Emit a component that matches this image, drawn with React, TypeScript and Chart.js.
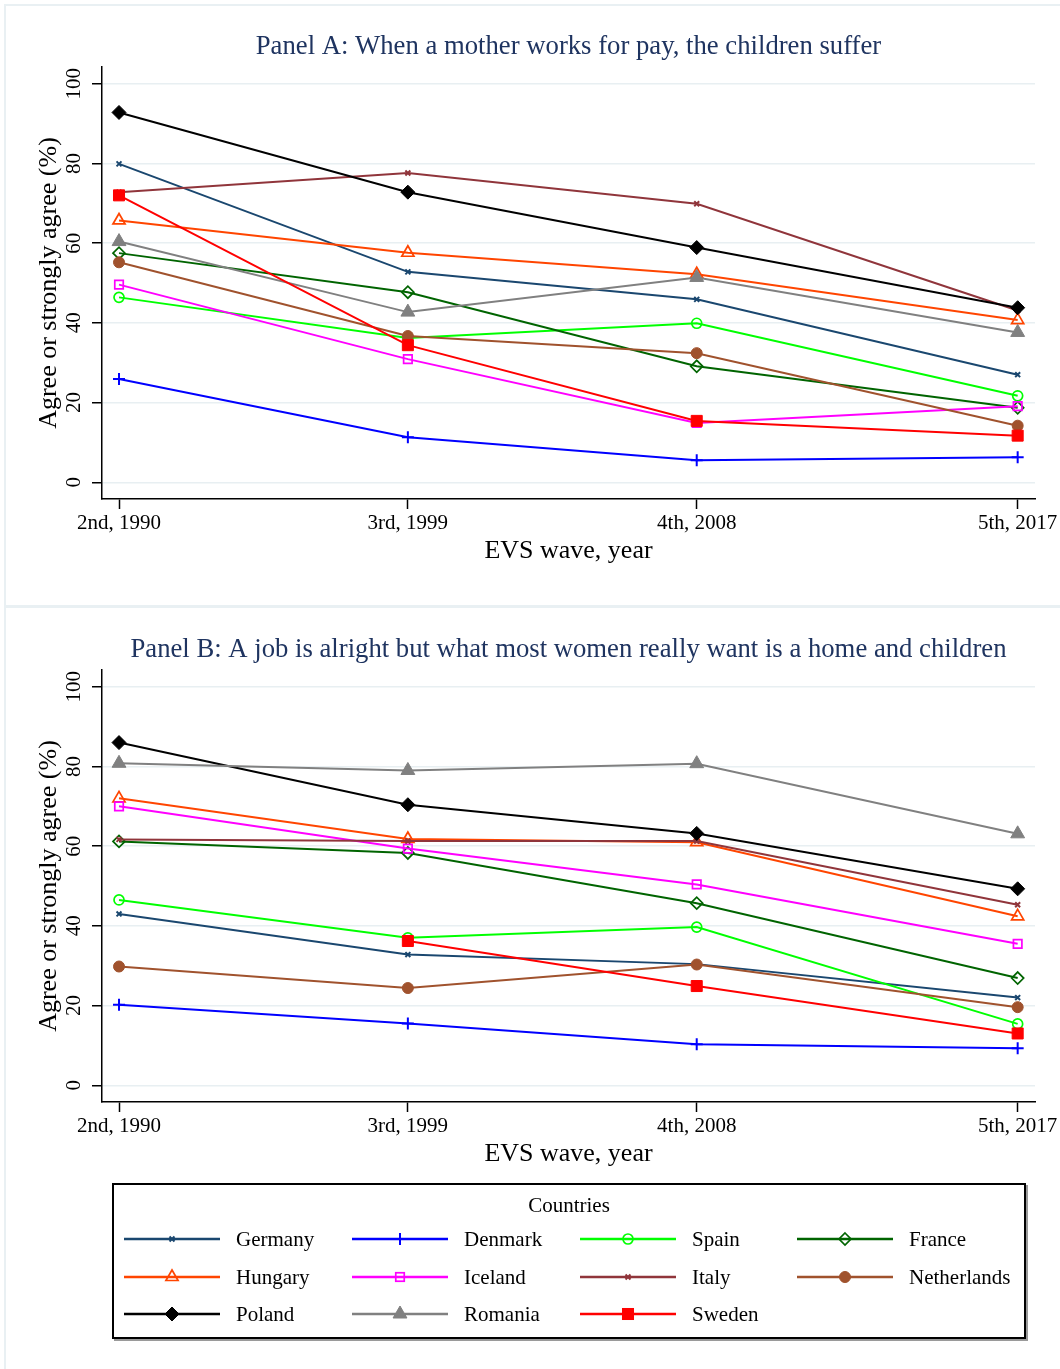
import React, { useEffect, useRef } from "react";
import { Chart, registerables } from "chart.js";

Chart.register(...registerables);

const SERIF = "'Liberation Serif', 'Times New Roman', serif";

// x positions (survey year used for plotting) and tick labels
const waveYears = [1990, 1999, 2008, 2018];
const waveLabels = ["2nd, 1990", "3rd, 1999", "4th, 2008", "5th, 2017"];
const yTicks = [0, 20, 40, 60, 80, 100];

const countries = [
  "Germany", "Denmark", "Spain", "France",
  "Hungary", "Iceland", "Italy", "Netherlands",
  "Poland", "Romania", "Sweden",
];
const colors = [
  "#1a476f", "#0000ff", "#00ff00", "#006400",
  "#ff4500", "#ff00ff", "#90353b", "#a0522d",
  "#000000", "#808080", "#ff0000",
];
const pointStyles = [
  "crossRot", "cross", "circle", "rectRot",
  "triangle", "rect", "crossRot", "circle",
  "rectRot", "triangle", "rect",
];
const hollow = [false, false, true, true, true, true, false, false, false, false, false];
const radii = [3.5, 6, 5, 6, 7, 6, 3.5, 5.5, 7, 8, 7.8];

// Panel A: When a mother works for pay, the children suffer
const panelA_Germany = [79.9, 52.8, 45.9, 27.0];
const panelA_Denmark = [25.9, 11.3, 5.5, 6.3];
const panelA_Spain = [46.4, 36.2, 39.9, 21.7];
const panelA_France = [57.5, 47.7, 29.1, 18.7];
const panelA_Hungary = [65.7, 57.6, 52.2, 40.7];
const panelA_Iceland = [49.6, 30.9, 14.9, 19.1];
const panelA_Italy = [72.8, 77.6, 69.9, 43.1];
const panelA_Netherlands = [55.2, 36.7, 32.4, 14.2];
const panelA_Poland = [92.8, 72.8, 58.9, 43.8];
const panelA_Romania = [60.4, 42.7, 51.4, 37.6];
const panelA_Sweden = [72.0, 34.4, 15.4, 11.7];

// Panel B: A job is alright but what most women really want is a home and children
const panelB_Germany = [43.0, 32.8, 30.4, 22.0];
const panelB_Denmark = [20.2, 15.5, 10.3, 9.3];
const panelB_Spain = [46.5, 37.0, 39.7, 15.4];
const panelB_France = [61.2, 58.3, 45.7, 26.9];
const panelB_Hungary = [72.0, 61.8, 61.0, 42.4];
const panelB_Iceland = [70.0, 59.4, 50.4, 35.5];
const panelB_Italy = [61.7, 61.3, 61.3, 45.3];
const panelB_Netherlands = [29.8, 24.4, 30.3, 19.6];
const panelB_Poland = [86.0, 70.4, 63.2, 49.3];
const panelB_Romania = [80.8, 79.0, 80.7, 63.1];
const panelB_Sweden = [null, 36.2, 24.9, 13.0];

const panelA = [
  panelA_Germany, panelA_Denmark, panelA_Spain, panelA_France,
  panelA_Hungary, panelA_Iceland, panelA_Italy, panelA_Netherlands,
  panelA_Poland, panelA_Romania, panelA_Sweden,
];
const panelB = [
  panelB_Germany, panelB_Denmark, panelB_Spain, panelB_France,
  panelB_Hungary, panelB_Iceland, panelB_Italy, panelB_Netherlands,
  panelB_Poland, panelB_Romania, panelB_Sweden,
];

const titleA = "Panel A: When a mother works for pay, the children suffer";
const titleB = "Panel B: A job is alright but what most women really want is a home and children";

const CW = 1060;
const CH = 603;

function makeConfig(title: string, series: (number | null)[][]): any {
  const n = countries.length;
  const tickFont = { family: SERIF, size: 21 };
  const titleFont = { family: SERIF, size: 26 };
  return {
    type: "line",
    data: {
      datasets: countries.map((name, i) => ({
        label: name,
        data: waveYears.map((x, j) => ({ x, y: series[i][j] })),
        borderColor: colors[i],
        backgroundColor: colors[i],
        borderWidth: 2,
        pointStyle: pointStyles[i],
        pointRadius: radii[i],
        pointBorderWidth: hollow[i] ? 1.7 : pointStyles[i].startsWith("cross") ? 2 : 1,
        pointBackgroundColor: hollow[i] ? "rgba(0,0,0,0)" : colors[i],
        pointBorderColor: colors[i],
        tension: 0,
        spanGaps: false,
        order: n - i,
      })),
    },
    options: {
      animation: false,
      responsive: false,
      maintainAspectRatio: false,
      events: [],
      layout: { padding: { left: 0, right: 25, top: 0, bottom: 0 }, autoPadding: false },
      plugins: {
        legend: { display: false },
        tooltip: { enabled: false },
        title: {
          display: true,
          fullSize: false,
          text: title,
          color: "#1f3460",
          font: { family: SERIF, size: 26.7, weight: "normal" },
          padding: { top: 31, bottom: 4 },
        },
      },
      scales: {
        x: {
          type: "linear",
          min: 1989.47,
          max: 2018.54,
          afterBuildTicks: (s: any) => {
            s.ticks = waveYears.map((v) => ({ value: v }));
          },
          afterFit: (s: any) => {
            s.height = CH - 499;
          },
          ticks: {
            callback: (v: number) => {
              const k = waveYears.indexOf(v);
              return k >= 0 ? waveLabels[k] : "";
            },
            font: tickFont,
            color: "#000",
            padding: 2,
            maxRotation: 0,
            minRotation: 0,
            autoSkip: false,
          },
          grid: {
            drawOnChartArea: false,
            drawTicks: true,
            tickLength: 10,
            tickColor: "#000",
            tickWidth: 1.5,
          },
          border: { display: true, color: "#000", width: 1.5 },
          title: {
            display: true,
            text: "EVS wave, year",
            color: "#000",
            font: titleFont,
            padding: { top: 0, bottom: 36 },
          },
        },
        y: {
          type: "linear",
          min: -4.2,
          max: 104.2,
          afterBuildTicks: (s: any) => {
            s.ticks = yTicks.map((v) => ({ value: v }));
          },
          afterFit: (s: any) => {
            s.width = 102;
          },
          ticks: {
            minRotation: 90,
            maxRotation: 90,
            crossAlign: "center",
            padding: 2,
            font: tickFont,
            color: "#000",
          },
          grid: {
            color: "#e8eff2",
            lineWidth: 1.5,
            drawTicks: true,
            tickLength: 10,
            tickColor: "#000",
            tickWidth: 1.5,
          },
          border: { display: true, color: "#000", width: 1.5 },
          title: {
            display: true,
            text: "Agree or strongly agree (%)",
            color: "#000",
            font: titleFont,
            padding: { top: 34, bottom: 0 },
          },
        },
      },
    },
  };
}

function Panel({ title, series, top }: { title: string; series: (number | null)[][]; top: number }) {
  const ref = useRef<HTMLCanvasElement | null>(null);
  useEffect(() => {
    if (!ref.current) return;
    const chart = new Chart(ref.current, makeConfig(title, series));
    return () => chart.destroy();
  }, [title, series]);
  return (
    <canvas
      ref={ref}
      width={CW}
      height={CH}
      style={{ position: "absolute", left: 0, top, width: CW, height: CH, display: "block" }}
    />
  );
}

function Marker({ i, cx, cy }: { i: number; cx: number; cy: number }) {
  const c = colors[i];
  const r = radii[i];
  const st = pointStyles[i];
  const fill = hollow[i] ? "none" : c;
  const sw = hollow[i] ? 1.7 : 1;
  if (st === "circle") return <circle cx={cx} cy={cy} r={r} fill={fill} stroke={c} strokeWidth={sw} />;
  if (st === "rect") {
    const h = r * Math.SQRT1_2;
    return <rect x={cx - h} y={cy - h} width={2 * h} height={2 * h} fill={fill} stroke={c} strokeWidth={sw} />;
  }
  if (st === "rectRot") {
    const p = `${cx},${cy - r} ${cx + r},${cy} ${cx},${cy + r} ${cx - r},${cy}`;
    return <polygon points={p} fill={fill} stroke={c} strokeWidth={sw} />;
  }
  if (st === "triangle") {
    const p = [0, 1, 2]
      .map((k) => {
        const a = (k * 2 * Math.PI) / 3;
        return `${cx + Math.sin(a) * r},${cy - Math.cos(a) * r}`;
      })
      .join(" ");
    return <polygon points={p} fill={fill} stroke={c} strokeWidth={sw} />;
  }
  if (st === "cross") {
    return (
      <g stroke={c} strokeWidth={2}>
        <line x1={cx - r} y1={cy} x2={cx + r} y2={cy} />
        <line x1={cx} y1={cy - r} x2={cx} y2={cy + r} />
      </g>
    );
  }
  const d = r * Math.SQRT1_2;
  return (
    <g stroke={c} strokeWidth={2}>
      <line x1={cx - d} y1={cy - d} x2={cx + d} y2={cy + d} />
      <line x1={cx - d} y1={cy + d} x2={cx + d} y2={cy - d} />
    </g>
  );
}

const legendColX = [124, 352, 580, 797];
const legendRowY = [1239, 1277, 1314];

function Legend() {
  return (
    <div>
      <div
        style={{
          position: "absolute",
          left: 112,
          top: 1183,
          width: 910,
          height: 152,
          border: "2px solid #000",
          boxShadow: "2px 2px 0 #9a9a9a",
          background: "#fff",
        }}
      />
      <div
        style={{
          position: "absolute",
          left: 112,
          width: 914,
          top: 1192,
          textAlign: "center",
          fontFamily: SERIF,
          fontSize: 21,
          lineHeight: "26px",
          color: "#000",
        }}
      >
        Countries
      </div>
      {countries.map((name, i) => {
        const col = i % 4;
        const row = Math.floor(i / 4);
        const x = legendColX[col];
        const y = legendRowY[row];
        return (
          <div key={name}>
            <svg
              width={96}
              height={20}
              style={{ position: "absolute", left: x, top: y - 10, overflow: "visible" }}
            >
              <line x1={0} y1={10} x2={96} y2={10} stroke={colors[i]} strokeWidth={2.5} />
              <Marker i={i} cx={48} cy={10} />
            </svg>
            <div
              style={{
                position: "absolute",
                left: x + 112,
                top: y - 13,
                fontFamily: SERIF,
                fontSize: 21,
                lineHeight: "26px",
                color: "#000",
                whiteSpace: "nowrap",
              }}
            >
              {name}
            </div>
          </div>
        );
      })}
    </div>
  );
}

export default function App() {
  return (
    <div
      style={{
        position: "absolute",
        left: 0,
        top: 0,
        width: 1060,
        height: 1369,
        overflow: "hidden",
        background: "#fff",
      }}
    >
      <div
        style={{
          position: "absolute",
          left: 4,
          top: 4,
          width: 1080,
          height: 599,
          border: "2px solid #e9f0f3",
        }}
      />
      <div
        style={{
          position: "absolute",
          left: 4,
          top: 606,
          width: 1080,
          height: 900,
          border: "2px solid #e9f0f3",
        }}
      />
      <Panel title={titleA} series={panelA} top={0} />
      <Panel title={titleB} series={panelB} top={603} />
      <Legend />
    </div>
  );
}
